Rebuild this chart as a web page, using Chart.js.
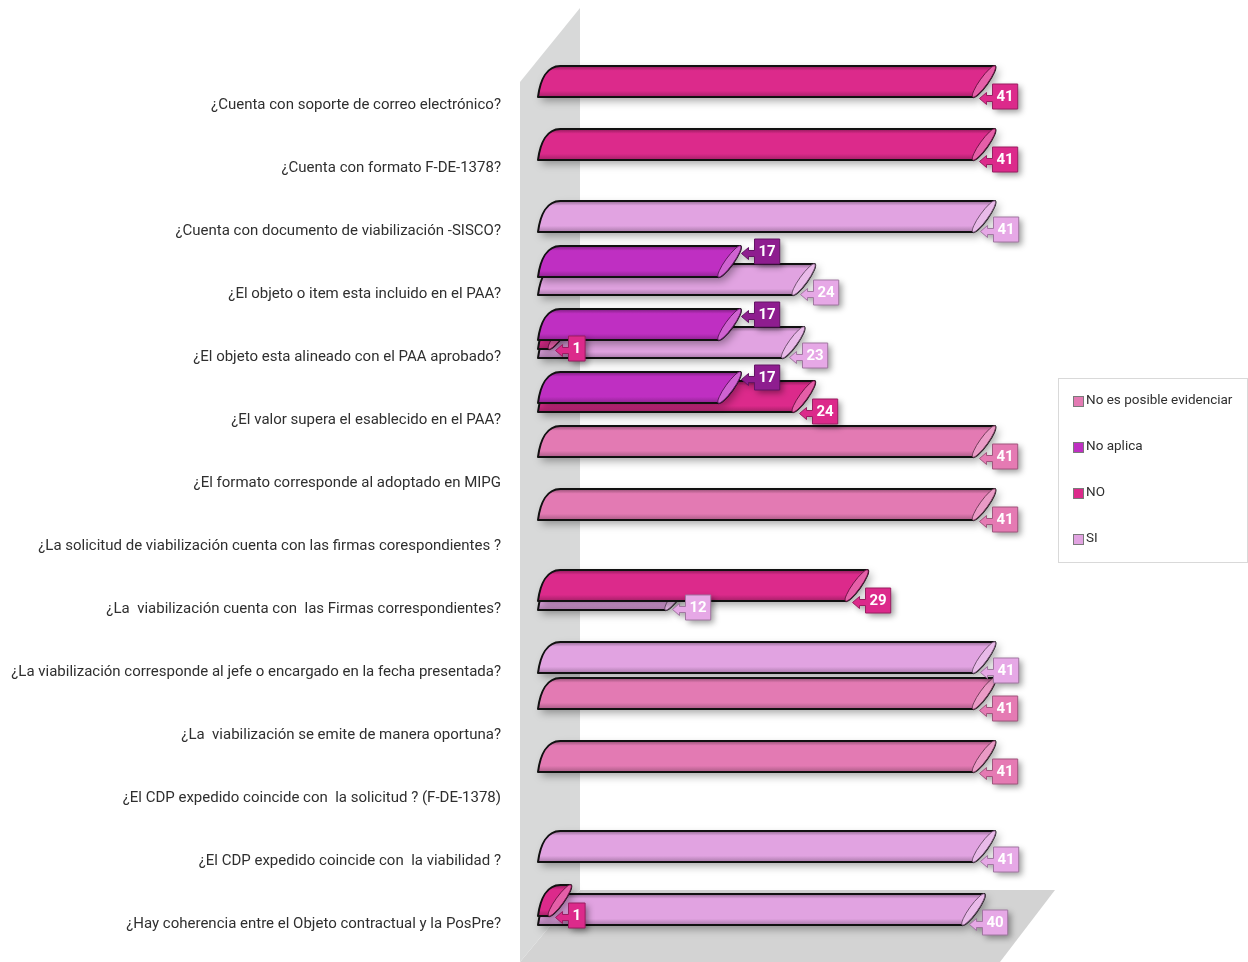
<!DOCTYPE html>
<html>
<head>
<meta charset="utf-8">
<script src="https://cdn.jsdelivr.net/npm/chart.js@4.4.1/dist/chart.umd.min.js"></script>
<style>
  html, body { margin: 0; padding: 0; background: #fff; }
  #wrap { width: 1248px; height: 962px; }
</style>
</head>
<body>
<div id="wrap"><canvas id="chart"></canvas></div>
<script>
const categories = [
    '¿Cuenta con soporte de correo electrónico?',
    '¿Cuenta con formato F-DE-1378?',
    '¿Cuenta con documento de viabilización -SISCO?',
    '¿El objeto o item esta incluido en el PAA?',
    '¿El objeto esta alineado con el PAA aprobado?',
    '¿El valor supera el esablecido en el PAA?',
    '¿El formato corresponde al adoptado en MIPG',
    '¿La solicitud de viabilización cuenta con las firmas corespondientes ?',
    '¿La  viabilización cuenta con  las Firmas correspondientes?',
    '¿La viabilización corresponde al jefe o encargado en la fecha presentada?',
    '¿La  viabilización se emite de manera oportuna?',
    '¿El CDP expedido coincide con  la solicitud ? (F-DE-1378)',
    '¿El CDP expedido coincide con  la viabilidad ?',
    '¿Hay coherencia entre el Objeto contractual y la PosPre?'
];

const seriesNames = ['No es posible evidenciar', 'No aplica', 'NO', 'SI'];
const noEsPosible = [null, null, null, null, null, null, 41, 41, null, null, 41, 41, null, null];
const noAplica    = [null, null, null, 17, 17, 17, null, null, null, null, null, null, null, null];
const noValues    = [41, 41, null, null, 1, 24, null, null, 29, null, null, null, null, 1];
const siValues    = [null, null, 41, 24, 23, null, null, null, 12, 41, null, null, 41, 40];

const barColors   = ['#e37ab3', '#bf2fc2', '#dc2a8b', '#e1a3e1'];
const labelColors = ['#e57ab3', '#8e1d8f', '#dc2a8b', '#e6a8e6'];
const labelDx     = [19, 36, 19, 20];   // box offset from bar end
const labelDy     = [14, -11, 15, 13];

const FONT = "'Liberation Sans Narrow', 'Arial Narrow', 'Roboto', sans-serif";

function shade(hex, f) {
    const n = parseInt(hex.slice(1), 16);
    let r = n >> 16, g = (n >> 8) & 255, b = n & 255;
    const t = f < 0 ? 0 : 255, p = Math.abs(f);
    r = Math.round((t - r) * p + r);
    g = Math.round((t - g) * p + g);
    b = Math.round((t - b) * p + b);
    return `rgb(${r},${g},${b})`;
}

// oblique "tube" bar like the Excel 3D look
function drawBar3d(ctx, el, color) {
    const p = el.getProps(['x', 'y', 'base', 'height'], true);
    const h = p.height, x0 = p.base, x1 = p.x;
    const t = p.y - h / 2, b = p.y + h / 2;
    const s = h * 0.72;
    const L = Math.hypot(s, h) / 2, w = 4, ang = Math.atan2(-h, s);
    const cx = x1 + s / 2, cy = p.y;

    ctx.save();
    ctx.beginPath();
    ctx.moveTo(x0, b);
    ctx.bezierCurveTo(x0 + s * 0.1, b - h * 0.55, x0 + s * 0.4, t, x0 + s, t);
    ctx.lineTo(x1 + s, t);
    ctx.ellipse(cx, cy, L, w, ang, 0, Math.PI);
    ctx.closePath();
    const g = ctx.createLinearGradient(0, t, 0, b);
    g.addColorStop(0, shade(color, -0.35));
    g.addColorStop(0.15, color);
    g.addColorStop(0.8, color);
    g.addColorStop(1, shade(color, -0.25));
    ctx.fillStyle = g;
    ctx.shadowColor = 'rgba(0,0,0,0.35)';
    ctx.shadowBlur = 8;
    ctx.shadowOffsetX = 3;
    ctx.shadowOffsetY = 4;
    ctx.fill();
    ctx.shadowColor = 'transparent';
    ctx.lineWidth = 2;
    ctx.lineJoin = 'round';
    ctx.strokeStyle = '#111';
    ctx.stroke();

    // end face
    ctx.beginPath();
    ctx.ellipse(cx, cy, L, w, ang, 0, Math.PI * 2);
    ctx.fillStyle = shade(color, 0.25);
    ctx.fill();
    ctx.lineWidth = 1;
    ctx.strokeStyle = shade(color, -0.5);
    ctx.stroke();
    ctx.restore();
}

function drawValueLabel(ctx, el, value, i) {
    const p = el.getProps(['x', 'y'], true);
    const color = labelColors[i];
    ctx.save();
    ctx.font = `bold 15px ${FONT}`;
    const tw = ctx.measureText(String(value)).width;
    const bw = Math.max(15, tw + 8), bh = 25;
    const left = Math.round(p.x + labelDx[i]) + 0.5;
    const cy = Math.round(p.y + labelDy[i]) + 0.5;
    const top = cy - bh / 2;

    ctx.beginPath();
    ctx.moveTo(left, top);
    ctx.lineTo(left + bw, top);
    ctx.lineTo(left + bw, top + bh);
    ctx.lineTo(left, top + bh);
    ctx.lineTo(left, cy + 5);
    ctx.lineTo(left - 6, cy + 5);
    ctx.lineTo(left - 6, cy + 8);
    ctx.lineTo(left - 13, cy + 2);
    ctx.lineTo(left - 6, cy - 4);
    ctx.lineTo(left - 6, cy - 1);
    ctx.lineTo(left, cy - 1);
    ctx.closePath();
    ctx.fillStyle = color;
    ctx.shadowColor = 'rgba(0,0,0,0.4)';
    ctx.shadowBlur = 6;
    ctx.shadowOffsetX = 3;
    ctx.shadowOffsetY = 3;
    ctx.fill();
    ctx.shadowColor = 'transparent';
    ctx.lineWidth = 1;
    ctx.strokeStyle = shade(color, -0.3);
    ctx.stroke();

    ctx.fillStyle = '#fff';
    ctx.textAlign = 'center';
    ctx.textBaseline = 'middle';
    ctx.fillText(String(value), left + bw / 2, cy + 1);
    ctx.restore();
}

const wallPlugin = {
    id: 'wall',
    beforeDatasetsDraw(chart) {
        const { ctx, chartArea: ca } = chart;
        const l = ca.left - 18, r = ca.left + 42;
        const floorY = ca.bottom - 37.5;
        ctx.save();
        ctx.fillStyle = '#d3d3d3';
        ctx.beginPath();
        ctx.moveTo(r, floorY);
        ctx.lineTo(ca.right + 8, floorY);
        ctx.lineTo(ca.right - 47, chart.height);
        ctx.lineTo(l, chart.height);
        ctx.closePath();
        ctx.fill();
        ctx.fillStyle = '#d8d9d9';
        ctx.beginPath();
        ctx.moveTo(l, ca.top + 36.5);
        ctx.lineTo(r, ca.top - 37.5);
        ctx.lineTo(r, floorY);
        ctx.lineTo(l, chart.height);
        ctx.closePath();
        ctx.fill();
        ctx.restore();
    }
};

const barPlugin = {
    id: 'bars3d',
    beforeDatasetDraw(chart, args) {
        const ctx = chart.ctx;
        const i = args.index;
        const ds = chart.data.datasets[i];
        args.meta.data.forEach((el, j) => {
            if (ds.data[j] === null) return;
            drawBar3d(ctx, el, barColors[i]);
        });
        return false;
    },
    afterDatasetsDraw(chart) {
        const ctx = chart.ctx;
        for (let i = chart.data.datasets.length - 1; i >= 0; i--) {
            const ds = chart.data.datasets[i];
            chart.getDatasetMeta(i).data.forEach((el, j) => {
                if (ds.data[j] === null) return;
                drawValueLabel(ctx, el, ds.data[j], i);
            });
        }
    }
};

const legendPlugin = {
    id: 'boxLegend',
    afterDraw(chart) {
        const ctx = chart.ctx;
        const x = chart.width - 190, y = 378;
        ctx.save();
        ctx.strokeStyle = '#d9d9d9';
        ctx.lineWidth = 1;
        ctx.strokeRect(x + 0.5, y + 0.5, 189, 184);
        ctx.font = `13.5px ${FONT}`;
        ctx.textBaseline = 'middle';
        ctx.textAlign = 'left';
        chart.data.datasets.forEach((ds, i) => {
            const cy = y + 23 + i * 46;
            ctx.fillStyle = barColors[i];
            ctx.fillRect(x + 16, cy - 4, 9, 9);
            ctx.strokeStyle = '#7a7a7a';
            ctx.strokeRect(x + 15.5, cy - 4.5, 10, 10);
            ctx.fillStyle = '#2f2f2f';
            ctx.fillText(ds.label, x + 28, cy);
        });
        ctx.restore();
    }
};

const ctx = document.getElementById('chart').getContext('2d');
new Chart(ctx, {
    type: 'bar',
    data: {
        labels: categories,
        datasets: [
            { label: seriesNames[0], data: noEsPosible, backgroundColor: barColors[0] },
            { label: seriesNames[1], data: noAplica, backgroundColor: barColors[1] },
            { label: seriesNames[2], data: noValues, backgroundColor: barColors[2] },
            { label: seriesNames[3], data: siValues, backgroundColor: barColors[3] }
        ]
    },
    options: {
        indexAxis: 'y',
        responsive: true,
        maintainAspectRatio: false,
        animation: false,
        categoryPercentage: 0.571,
        barPercentage: 3.44,
        layout: {
            padding: { top: 45.5, bottom: 34.5, left: 0, right: 201 }
        },
        scales: {
            x: {
                display: false,
                min: 0,
                max: 48
            },
            y: {
                // tick marks hidden, their length only pushes the labels left
                grid: { display: false, drawTicks: true, tickLength: 37 },
                border: { display: false },
                ticks: {
                    autoSkip: false,
                    padding: 0,
                    labelOffset: 28,
                    color: '#2f2f2f',
                    font: { family: FONT, size: 15 }
                },
                afterFit: scale => { scale.width = 538; }
            }
        },
        plugins: {
            legend: { display: false },
            tooltip: { enabled: false }
        }
    },
    plugins: [wallPlugin, barPlugin, legendPlugin]
});
</script>
</body>
</html>
